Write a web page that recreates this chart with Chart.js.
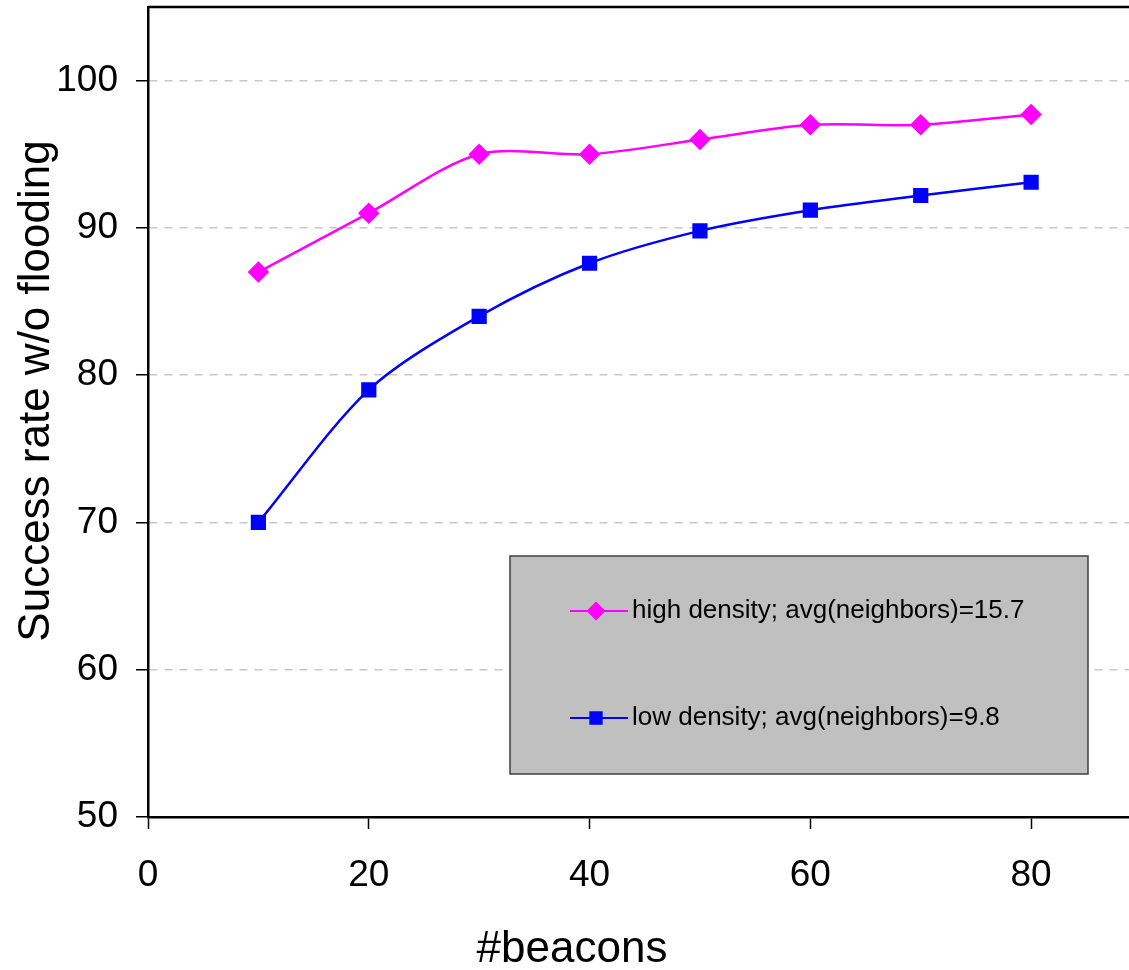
<!DOCTYPE html>
<html>
<head>
<meta charset="utf-8">
<script src="https://cdn.jsdelivr.net/npm/chart.js@4"></script>
<style>
  html, body { margin: 0; padding: 0; overflow: hidden; background: #fff; }
  canvas { display: block; }
</style>
</head>
<body>
<canvas id="chart" width="1160" height="970"></canvas>
<script>
const beacons = [10, 20, 30, 40, 50, 60, 70, 80];
const highDensity = [87.0, 91.0, 95.0, 95.0, 96.0, 97.0, 97.0, 97.7];
const lowDensity = [70.0, 79.0, 84.0, 87.6, 89.8, 91.2, 92.2, 93.1];
const seriesLabels = ["high density; avg(neighbors)=15.7", "low density; avg(neighbors)=9.8"];
const xTicks = [0, 20, 40, 60, 80];
const yTicks = [50, 60, 70, 80, 90, 100];

const FONT = "'Liberation Sans Narrow', 'Liberation Sans', Arial, sans-serif";

// titles, top border and the grey legend box inside the plot
const extras = {
  id: "extras",
  afterDatasetsDraw(chart) {
    const ctx = chart.ctx;
    ctx.save();
    ctx.fillStyle = "#c0c0c0";
    ctx.fillRect(510, 556, 578, 218);
    ctx.strokeStyle = "#404040";
    ctx.lineWidth = 1.5;
    ctx.strokeRect(510, 556, 578, 218);
    const rows = [611, 718];
    chart.data.datasets.forEach((ds, i) => {
      const y = rows[i];
      ctx.strokeStyle = ds.borderColor;
      ctx.lineWidth = 2;
      ctx.beginPath();
      ctx.moveTo(570, y);
      ctx.lineTo(628, y);
      ctx.stroke();
      ctx.fillStyle = ds.pointBackgroundColor;
      Chart.helpers.drawPoint(ctx, {
        pointStyle: ds.pointStyle, radius: ds.pointRadius - 1, borderWidth: 1, rotation: 0
      }, 596, y);
      ctx.fillStyle = "#000";
      ctx.font = "26px " + FONT;
      ctx.textAlign = "left";
      ctx.textBaseline = "middle";
      ctx.fillText(ds.label, 632, y);
    });
    ctx.restore();
  },
  afterDraw(chart) {
    const ctx = chart.ctx, a = chart.chartArea;
    ctx.save();
    ctx.strokeStyle = "#000";
    ctx.lineWidth = 2.5;
    ctx.beginPath();
    ctx.moveTo(a.left, a.top);
    ctx.lineTo(chart.width, a.top);
    ctx.stroke();
    ctx.fillStyle = "#000";
    ctx.font = "44px " + FONT;
    ctx.textAlign = "center";
    ctx.textBaseline = "middle";
    ctx.fillText("#beacons", 572, 950);
    ctx.translate(37, 391);
    ctx.rotate(-Math.PI / 2);
    ctx.fillText("Success rate w/o flooding", 0, 0);
    ctx.restore();
  }
};

new Chart(document.getElementById("chart").getContext("2d"), {
  type: "line",
  data: {
    datasets: [
      {
        label: seriesLabels[0],
        data: beacons.map((x, i) => ({ x: x, y: highDensity[i] })),
        borderColor: "#ff00ff",
        backgroundColor: "#ff00ff",
        pointBackgroundColor: "#ff00ff",
        pointBorderColor: "#ff00ff",
        pointStyle: "rectRot",
        pointRadius: 9,
        borderWidth: 2.5,
        tension: 0.3,
      },
      {
        label: seriesLabels[1],
        data: beacons.map((x, i) => ({ x: x, y: lowDensity[i] })),
        borderColor: "#0000ff",
        backgroundColor: "#0000ff",
        pointBackgroundColor: "#0000ff",
        pointBorderColor: "#0000ff",
        pointStyle: "rect",
        pointRadius: 9,
        borderWidth: 2.5,
        tension: 0.3,
      },
    ],
  },
  options: {
    responsive: false,
    animation: false,
    devicePixelRatio: 1,
    layout: { autoPadding: false, padding: { top: 7, left: 0, right: 18.5, bottom: 0 } },
    plugins: {
      legend: { display: false },
      tooltip: { enabled: false },
    },
    scales: {
      x: {
        type: "linear",
        min: 0,
        max: 90,
        afterBuildTicks: (s) => { s.ticks = xTicks.map((v) => ({ value: v })); },
        afterFit: (s) => { s.height = 153; s.paddingLeft = 0; s.paddingRight = 0; },
        grid: { drawOnChartArea: false, tickLength: 12, tickColor: "#000", tickWidth: 1.5 },
        border: { color: "#000", width: 2.5 },
        ticks: { color: "#000", font: { family: FONT, size: 37 }, padding: 25, maxRotation: 0 },
      },
      y: {
        min: 50,
        max: 105,
        afterBuildTicks: (s) => { s.ticks = yTicks.map((v) => ({ value: v })); },
        afterFit: (s) => { s.width = 148; s.paddingTop = 0; s.paddingBottom = 0; },
        grid: {
          color: (c) => (c.tick && c.tick.value === 50 ? "rgba(0,0,0,0)" : "#c8c8c8"),
          lineWidth: 1.5,
          tickLength: 12,
          tickColor: "#000",
          tickWidth: 1.5,
        },
        border: { color: "#000", width: 2.5, dash: [8, 7] },
        ticks: { color: "#000", font: { family: FONT, size: 37 }, padding: 18 },
      },
    },
  },
  plugins: [extras],
});
</script>
</body>
</html>
